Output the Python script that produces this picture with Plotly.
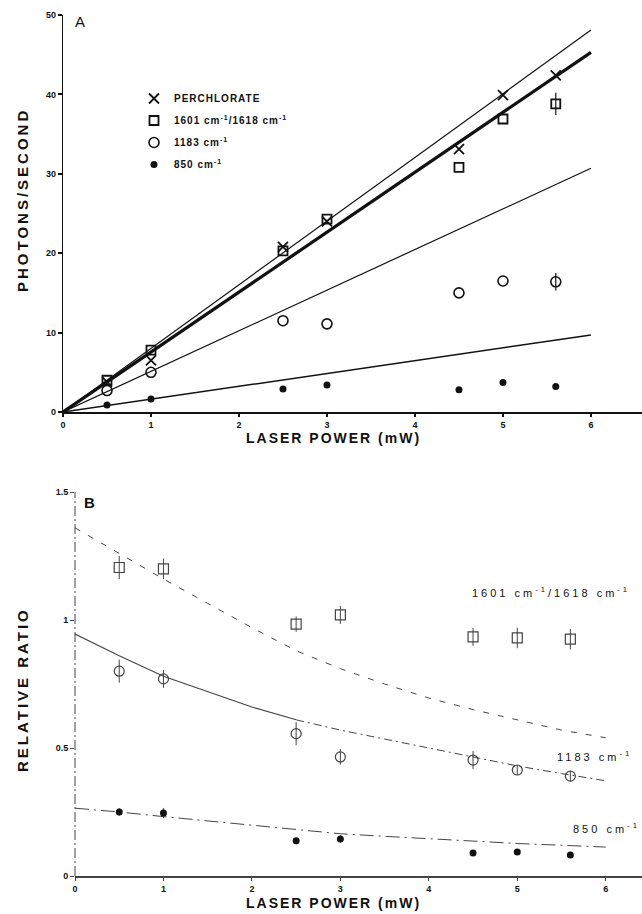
import plotly.graph_objects as go

# ---------------- Panel A data ----------------
power = [0.5, 1, 2.5, 3, 4.5, 5, 5.6]
perchlorate = [3.8, 6.5, 20.8, 24.0, 33.1, 39.9, 42.4]
band_1601 = [4.0, 7.8, 20.3, 24.3, 30.8, 36.9, 38.8]
band_1601_err = [0, 0, 0, 0, 0, 0, 1.4]
band_1183 = [2.7, 5.0, 11.5, 11.1, 15.0, 16.5, 16.4]
band_1183_err = [0, 0, 0, 0, 0, 0, 1.1]
band_850 = [0.87, 1.65, 2.9, 3.4, 2.8, 3.7, 3.2]

fit_x = [0, 6]
fit_perchlorate = [0, 48.1]
fit_1601 = [0, 45.3]
fit_1183 = [0, 30.7]
fit_850 = [0, 9.7]

# ---------------- Panel B data ----------------
ratio_1601 = [1.205, 1.20, 0.984, 1.02, 0.934, 0.93, 0.925]
ratio_1601_err = [0.045, 0.04, 0.03, 0.035, 0.035, 0.04, 0.04]
ratio_1183 = [0.80, 0.77, 0.556, 0.465, 0.453, 0.414, 0.39]
ratio_1183_err = [0.045, 0.035, 0.045, 0.03, 0.035, 0.02, 0.02]
ratio_850 = [0.25, 0.246, 0.138, 0.145, 0.09, 0.094, 0.082]
ratio_850_err = [0.015, 0.02, 0, 0.015, 0, 0, 0]

curve_x = [0, 0.5, 1, 1.5, 2, 2.5, 3, 3.5, 4, 4.5, 5, 5.5, 6]
curve_1601 = [1.36, 1.26, 1.16, 1.065, 0.97, 0.88, 0.81, 0.75, 0.695, 0.65, 0.61, 0.57, 0.54]
curve_1183 = [0.945, 0.86, 0.78, 0.72, 0.66, 0.61, 0.57, 0.535, 0.50, 0.465, 0.43, 0.40, 0.372]
curve_850 = [0.265, 0.25, 0.232, 0.215, 0.198, 0.18, 0.165, 0.155, 0.145, 0.135, 0.127, 0.12, 0.113]

x_ticks = [0, 1, 2, 3, 4, 5, 6]
a_y_ticks = [0, 10, 20, 30, 40, 50]
b_y_ticks = [0, 0.5, 1, 1.5]
b_y_ticktext = ["0", "0.5", "1", "1.5"]

lab_1601 = "1601 cm<sup>-1</sup>/1618 cm<sup>-1</sup>"
lab_1183 = "1183 cm<sup>-1</sup>"
lab_850 = "850 cm<sup>-1</sup>"


def spaced(txt, px):
    return '<span style="letter-spacing:%dpx">%s</span>' % (px, txt)


INK = "#111111"
GREY = "#444444"
W, H = 642, 914
FAM = "Liberation Sans, Arial, sans-serif"

fig = go.Figure()

# ---- Panel A fit lines ----
fig.add_trace(go.Scatter(x=fit_x, y=fit_perchlorate, mode="lines",
                         line=dict(color=INK, width=1.2), showlegend=False, xaxis="x", yaxis="y"))
fig.add_trace(go.Scatter(x=fit_x, y=fit_1601, mode="lines",
                         line=dict(color=INK, width=3.2), showlegend=False, xaxis="x", yaxis="y"))
fig.add_trace(go.Scatter(x=fit_x, y=fit_1183, mode="lines",
                         line=dict(color=INK, width=1.2), showlegend=False, xaxis="x", yaxis="y"))
fig.add_trace(go.Scatter(x=fit_x, y=fit_850, mode="lines",
                         line=dict(color=INK, width=1.5), showlegend=False, xaxis="x", yaxis="y"))

# ---- Panel A points ----
fig.add_trace(go.Scatter(x=power, y=perchlorate, mode="markers", name=spaced("PERCHLORATE", 1),
                         legendgroup="a",
                         marker=dict(symbol="x-thin", size=10, line=dict(color=INK, width=1.8), color=INK),
                         xaxis="x", yaxis="y"))
fig.add_trace(go.Scatter(x=power, y=band_1601, mode="markers", name=spaced(lab_1601, 1),
                         legendgroup="b",
                         error_y=dict(type="data", array=band_1601_err, width=0, color=INK, thickness=1.2),
                         marker=dict(symbol="square-open", size=9, color=INK, line=dict(width=1.8)),
                         xaxis="x", yaxis="y"))
fig.add_trace(go.Scatter(x=power, y=band_1183, mode="markers", name=spaced(lab_1183, 1),
                         legendgroup="c",
                         error_y=dict(type="data", array=band_1183_err, width=0, color=INK, thickness=1.2),
                         marker=dict(symbol="circle-open", size=10, color=INK, line=dict(width=1.6)),
                         xaxis="x", yaxis="y"))
fig.add_trace(go.Scatter(x=power, y=band_850, mode="markers", name=spaced(lab_850, 1),
                         legendgroup="d",
                         marker=dict(symbol="circle", size=7, color=INK),
                         xaxis="x", yaxis="y"))

# ---- Panel B curves ----
fig.add_trace(go.Scatter(x=curve_x, y=curve_1601, mode="lines",
                         line=dict(color=GREY, width=1, dash="6px,9px"), showlegend=False,
                         xaxis="x2", yaxis="y2"))
fig.add_trace(go.Scatter(x=curve_x[:6], y=curve_1183[:6], mode="lines",
                         line=dict(color=GREY, width=1.1), showlegend=False,
                         xaxis="x2", yaxis="y2"))
fig.add_trace(go.Scatter(x=curve_x[5:], y=curve_1183[5:], mode="lines",
                         line=dict(color=GREY, width=1, dash="8px,4px,2px,4px"), showlegend=False,
                         xaxis="x2", yaxis="y2"))
fig.add_trace(go.Scatter(x=curve_x, y=curve_850, mode="lines",
                         line=dict(color=GREY, width=1, dash="14px,5px,2px,5px"), showlegend=False,
                         xaxis="x2", yaxis="y2"))

# ---- Panel B points ----
fig.add_trace(go.Scatter(x=power, y=ratio_1601, mode="markers", showlegend=False,
                         error_y=dict(type="data", array=ratio_1601_err, width=0, color=GREY, thickness=1),
                         marker=dict(symbol="square-open", size=10, color=GREY, line=dict(width=1.2)),
                         xaxis="x2", yaxis="y2"))
fig.add_trace(go.Scatter(x=power, y=ratio_1183, mode="markers", showlegend=False,
                         error_y=dict(type="data", array=ratio_1183_err, width=0, color=GREY, thickness=1),
                         marker=dict(symbol="circle-open", size=10, color=GREY, line=dict(width=1.2)),
                         xaxis="x2", yaxis="y2"))
fig.add_trace(go.Scatter(x=power, y=ratio_850, mode="markers", showlegend=False,
                         error_y=dict(type="data", array=ratio_850_err, width=0, color=GREY, thickness=1),
                         marker=dict(symbol="circle", size=7, color=INK),
                         xaxis="x2", yaxis="y2"))

tickfont = dict(family=FAM, size=9, color=INK, weight="bold")

fig.update_layout(
    width=W, height=H,
    margin=dict(l=0, r=0, t=0, b=0),
    paper_bgcolor="white", plot_bgcolor="white",
    font=dict(family=FAM, color=INK),
    showlegend=True,
    legend=dict(x=134 / W, y=1 - 84 / H, xanchor="left", yanchor="top",
                bgcolor="rgba(0,0,0,0)", traceorder="grouped", tracegroupgap=3,
                font=dict(size=10, weight="bold", color=INK), itemwidth=30),
    xaxis=dict(domain=[63 / W, 1.0], range=[0, 6.58], anchor="y",
               tickvals=x_ticks, ticks="outside", ticklen=3, tickwidth=1.5, tickcolor=INK,
               showline=True, linecolor=INK, linewidth=2, showgrid=False, zeroline=False,
               tickfont=tickfont, automargin=False),
    yaxis=dict(domain=[1 - 412 / H, 1 - 15 / H], range=[0, 50], anchor="x",
               tickvals=a_y_ticks, ticks="outside", ticklen=4, tickwidth=1.5, tickcolor=INK,
               showline=True, linecolor=INK, linewidth=1.3, showgrid=False, zeroline=False,
               tickfont=tickfont, automargin=False),
    xaxis2=dict(domain=[75 / W, 1.0], range=[0, 6.41], anchor="y2",
                tickvals=x_ticks, ticks="outside", ticklen=3, tickwidth=1.2, tickcolor=GREY,
                showline=True, linecolor=GREY, linewidth=1.6, showgrid=False, zeroline=False,
                tickfont=tickfont, automargin=False),
    yaxis2=dict(domain=[1 - 876 / H, 1 - 492 / H], range=[0, 1.5], anchor="x2",
                tickvals=b_y_ticks, ticktext=b_y_ticktext, ticks="outside", ticklen=4,
                tickwidth=1, tickcolor=GREY,
                showline=False, showgrid=False, zeroline=False,
                tickfont=tickfont, automargin=False),
)

# dash-dot left axis of panel B
fig.add_shape(type="line", xref="x2 domain", yref="y2 domain", x0=0, x1=0, y0=0, y1=1,
              line=dict(color=GREY, width=1, dash="10px,3px,2px,3px"))

ann_bold = dict(family=FAM, color=INK, weight="bold")
annotations = [
    dict(text="A", x=73 / W, y=1 - 22 / H, xanchor="left", yanchor="middle",
         font=dict(size=15, color=INK)),
    dict(text="B", x=82 / W, y=1 - 502 / H, xanchor="left", yanchor="middle",
         font=dict(size=15, color=INK, weight="bold")),
    dict(text=spaced("LASER POWER (mW)", 2), x=333 / W, y=1 - 438 / H, xanchor="center", yanchor="middle",
         font=dict(size=14, **ann_bold)),
    dict(text=spaced("LASER POWER (mW)", 2), x=333 / W, y=1 - 903 / H, xanchor="center", yanchor="middle",
         font=dict(size=14, **ann_bold)),
    dict(text=spaced("PHOTONS/SECOND", 3), x=22 / W, y=1 - 200 / H, xanchor="center", yanchor="middle",
         textangle=-90, font=dict(size=15, **ann_bold)),
    dict(text=spaced("RELATIVE RATIO", 3), x=22 / W, y=1 - 690 / H, xanchor="center", yanchor="middle",
         textangle=-90, font=dict(size=15, **ann_bold)),
    dict(text=spaced(lab_1601, 3), x=470 / W, y=1 - 592 / H, xanchor="left", yanchor="middle",
         font=dict(size=11, color=INK, family=FAM)),
    dict(text=spaced(lab_1183, 3), x=555 / W, y=1 - 756 / H, xanchor="left", yanchor="middle",
         font=dict(size=11, color=INK, family=FAM)),
    dict(text=spaced(lab_850, 3), x=571 / W, y=1 - 828 / H, xanchor="left", yanchor="middle",
         font=dict(size=11, color=INK, family=FAM)),
]
for a in annotations:
    a.update(xref="paper", yref="paper", showarrow=False)
fig.update_layout(annotations=annotations)

fig.write_html("out.html", post_script="document.body.style.margin='0';",
               config={"displayModeBar": False})
